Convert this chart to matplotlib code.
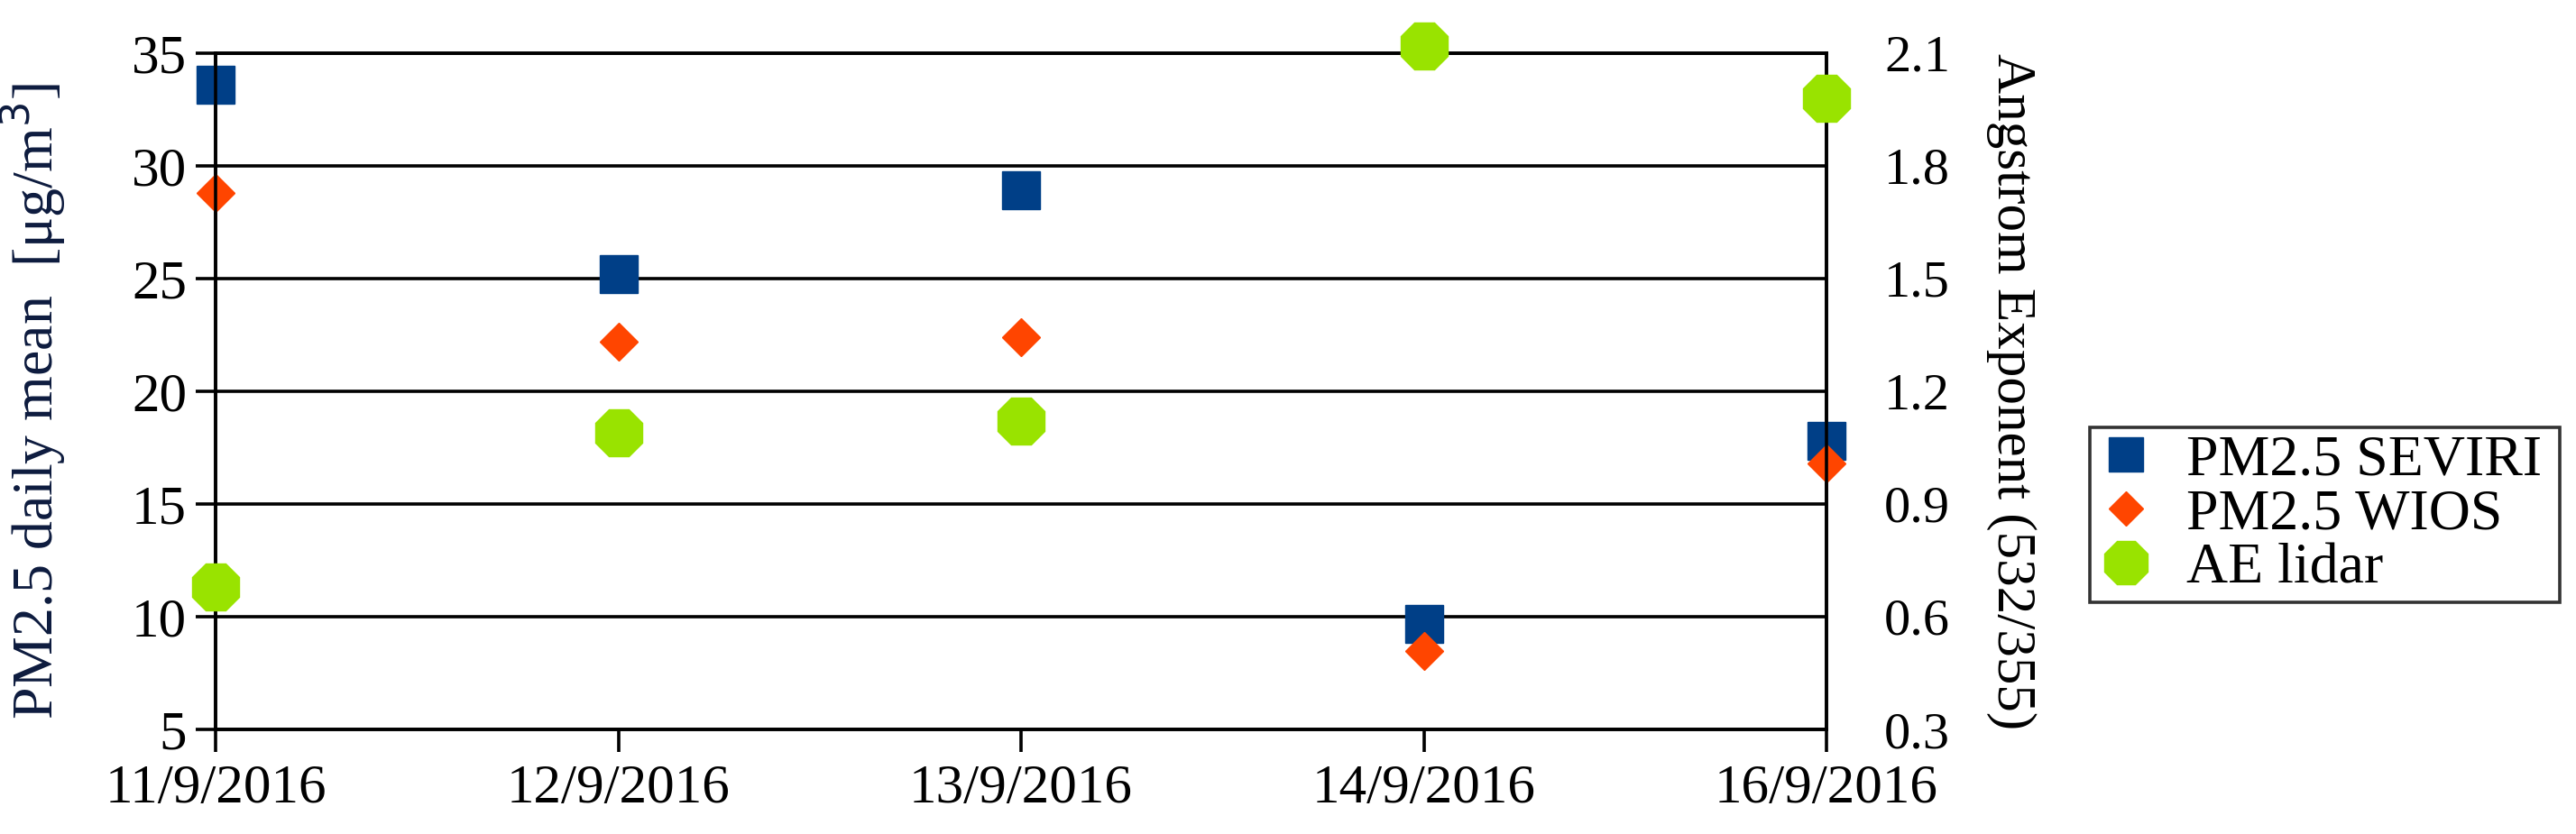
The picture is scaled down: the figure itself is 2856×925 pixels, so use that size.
import matplotlib
matplotlib.use('Agg')
import matplotlib.pyplot as plt

plt.rcParams['font.family'] = ['Liberation Serif', 'DejaVu Serif']

dates = ['11/9/2016', '12/9/2016', '13/9/2016', '14/9/2016', '16/9/2016']
pm_seviri = [33.6, 25.2, 28.9, 9.7, 17.8]
pm_wios = [28.8, 22.2, 22.4, 8.5, 16.8]
ae_lidar = [0.68, 1.09, 1.12, 2.12, 1.98]

pm_ticks = [5, 10, 15, 20, 25, 30, 35]
ae_ticks = [0.3, 0.6, 0.9, 1.2, 1.5, 1.8, 2.1]

fs = 44
lw = 2.6

fig = plt.figure(figsize=(28.56, 9.25), dpi=100)
ax = fig.add_axes([239/2856, 1-809/925, (2025-239)/2856, (809-59)/925])
ax2 = ax.twinx()

x = list(range(len(dates)))

h1, = ax.plot(x, pm_seviri, ls='none', marker='s', ms=30, color='#003F87',
              clip_on=False, zorder=3, label='PM2.5 SEVIRI')
h2, = ax.plot(x, pm_wios, ls='none', marker='D', ms=21, color='#FF4500',
              clip_on=False, zorder=4, label='PM2.5 WIOS')
h3, = ax2.plot(x, ae_lidar, ls='none', marker='8', ms=41, color='#99E300',
               clip_on=False, zorder=5, label='AE lidar')

ax.set_xlim(0, len(dates)-1)
ax.set_ylim(5, 35)
ax2.set_ylim(0.3, 2.1)
ax.set_yticks(pm_ticks)
ax2.set_yticks(ae_ticks)
ax2.set_yticklabels([f'{t:.1f}' for t in ae_ticks])
ax.set_xticks(x)
ax.set_xticklabels(dates)

ax.grid(axis='y', color='black', lw=lw)
ax.set_axisbelow(True)
for a in (ax, ax2):
    for s in a.spines.values():
        s.set_color('black')
        s.set_linewidth(lw)

ax.tick_params(axis='y', direction='out', length=16, width=lw, pad=7, labelsize=fs)
ax.tick_params(axis='x', direction='out', length=18, width=lw, pad=10, labelsize=fs)
ax2.tick_params(axis='y', length=0, pad=46, labelsize=42)

ax.set_ylabel('PM2.5 daily mean  [μg/m$^3$]', fontsize=46, color='#0d1b3e')
ax.yaxis.set_label_coords(-0.092, 0.485)
ax2.set_ylabel('Angstrom Exponent (532/355)', fontsize=44, rotation=270, va='center')
ax2.yaxis.set_label_coords(1.115, 0.5)

leg = fig.legend(handles=[h1, h2, h3], loc='center',
                 bbox_to_anchor=(2317/2856, 1-677/925, 521/2856, 212/925),
                 mode='expand', fontsize=46, frameon=True, fancybox=False,
                 edgecolor='black', borderaxespad=0, labelspacing=0.02,
                 handlelength=1.0, handletextpad=0.55, borderpad=0.12,
                 markerscale=0.93)
leg.get_frame().set_linewidth(lw)

fig.savefig('out.png', dpi=100)
